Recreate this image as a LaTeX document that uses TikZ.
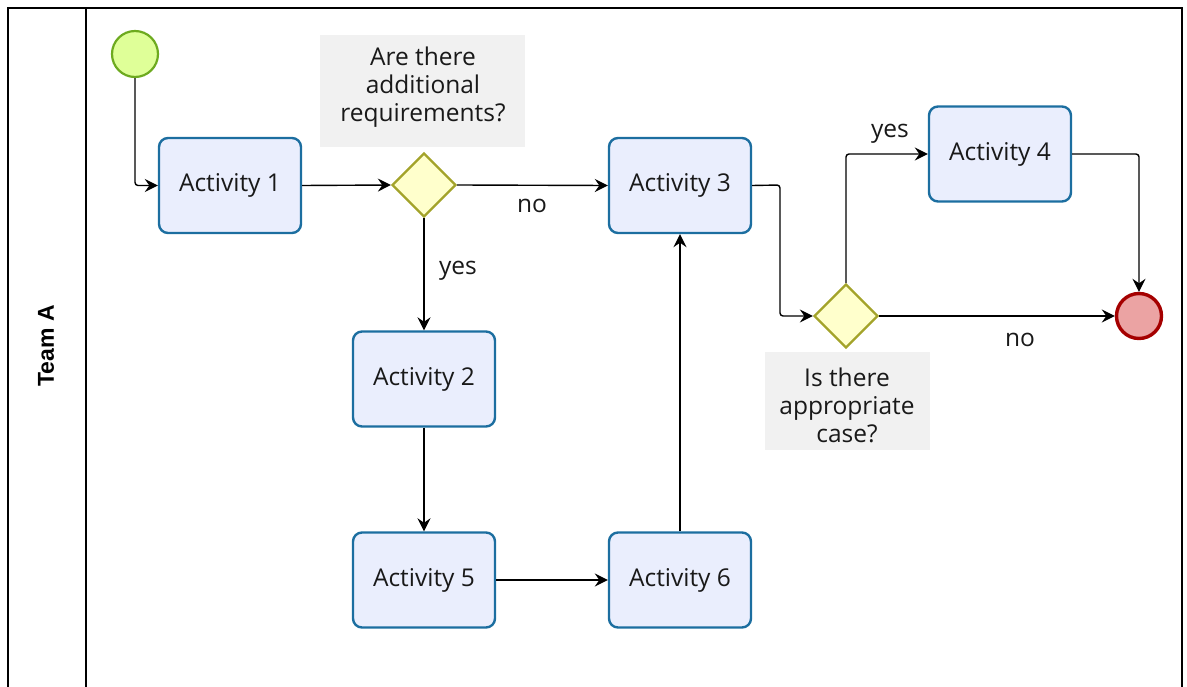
\documentclass[tikz,border=0pt]{standalone}
\usepackage{fontspec}
\setmainfont{Open Sans}
\newfontfamily\lanefont{Liberation Sans}
\usetikzlibrary{arrows.meta,shapes.geometric}
\definecolor{actfill}{HTML}{EAEEFD}
\definecolor{actline}{HTML}{1C6EA0}
\definecolor{gwfill}{HTML}{FFFFCC}
\definecolor{gwline}{HTML}{A3A32A}
\definecolor{startfill}{HTML}{DFFF98}
\definecolor{startline}{HTML}{6DAA1F}
\definecolor{endfill}{HTML}{EBA3A3}
\definecolor{endline}{HTML}{A50000}
\definecolor{notefill}{HTML}{F1F1F1}
\tikzset{
  txt/.style={font=\fontsize{24.5}{28}\selectfont, text=black!90},
  activity/.style={txt, draw=actline, fill=actfill, line width=2.4pt, rounded corners=9pt,
    minimum width=142pt, minimum height=95pt, inner sep=0pt},
  gateway/.style={draw=gwline, fill=gwfill, line width=2.3pt, diamond, aspect=1,
    minimum width=64pt, minimum height=64pt, inner sep=0pt},
  startev/.style={circle, draw=startline, fill=startfill, line width=2.2pt, minimum size=46pt, inner sep=0pt},
  endev/.style={circle, draw=endline, fill=endfill, line width=3.4pt, minimum size=45pt, inner sep=0pt},
  notebox/.style={fill=notefill, inner sep=0pt},
  notetext/.style={txt, align=center, inner sep=0pt},
  flow/.style={line width=1.4pt, rounded corners=3pt, -{Stealth[length=13pt,width=13pt,inset=4.5pt]}},
  lbl/.style={txt, inner sep=0pt}
}
\begin{document}
\begin{tikzpicture}[x=1pt,y=-1pt]
\useasboundingbox (0,0) rectangle (1187,687);
% pool and lane header
\draw[line width=1.4pt] (8,700) -- (8,8) -- (1182,8) -- (1182,700);
\draw[line width=1.4pt] (86,8) -- (86,700);
\node[rotate=90, font=\lanefont\bfseries\fontsize{23}{26}\selectfont] (lane) at (46,346) {Team A};

% decision notes
\node[notebox, minimum width=205pt, minimum height=112pt] (q1) at (422.5,91) {};
\node[notetext] (q1t) at (423,87) {Are there\\additional\\requirements?};
\node[notebox, minimum width=165pt, minimum height=98pt] (q2) at (847.5,401) {};
\node[notetext] (q2t) at (847,405) {Is there\\appropriate\\case?};

% events, activities, gateways
\node[startev] (start) at (135,54) {};
\node[activity] (a1) at (230,185.5) {Activity 1};
\node[gateway] (g1) at (424,185) {};
\node[activity] (a3) at (680,185.5) {Activity 3};
\node[activity] (a2) at (424,379) {Activity 2};
\node[activity] (a5) at (424,580) {Activity 5};
\node[activity] (a6) at (680,580) {Activity 6};
\node[activity] (a4) at (1000,154) {Activity 4};
\node[gateway] (g2) at (846,316) {};
\node[endev] (end) at (1139,316) {};

% flow labels
\node[lbl] (lno1) at (532,206) {no};
\node[lbl] (lyes1) at (458,271) {yes};
\node[lbl] (lyes2) at (890,134) {yes};
\node[lbl] (lno2) at (1020,340) {no};

% sequence flows
\draw[flow] (start.south) |- (a1.west);
\draw[flow] (a1.east) -- (g1.west);
\draw[flow] (g1.east) -- (a3.west);
\draw[flow] (g1.south) -- (a2.north);
\draw[flow] (a2.south) -- (a5.north);
\draw[flow] (a5.east) -- (a6.west);
\draw[flow] (a6.north) -- (a3.south);
\draw[flow] (a3.east) -- (780,185) -- (780,316) -- (g2.west);
\draw[flow] (g2.north) |- (a4.west);
\draw[flow] (a4.east) -| (end.north);
\draw[flow] (g2.east) -- (end.west);
\end{tikzpicture}
\end{document}
